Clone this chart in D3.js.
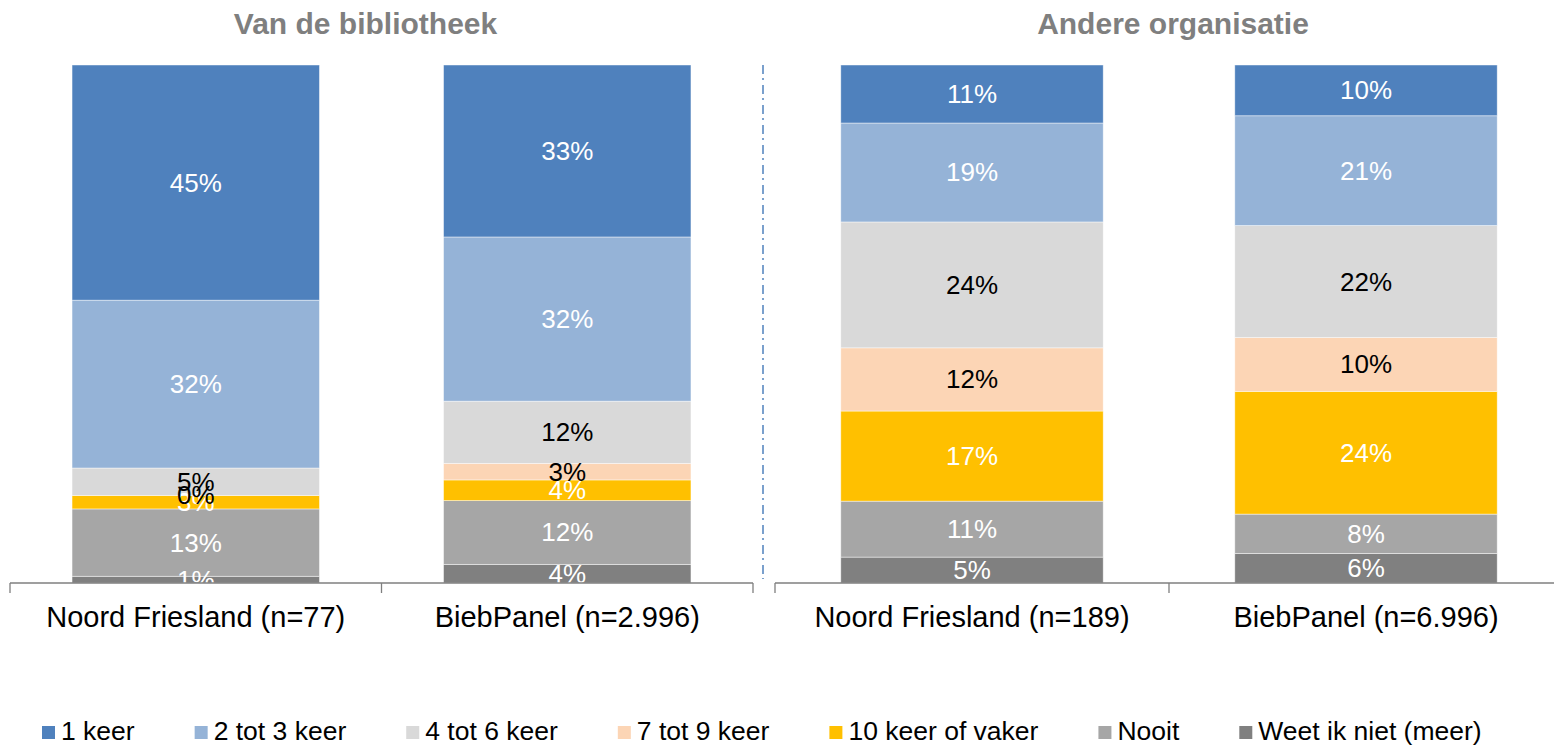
<!DOCTYPE html>
<html>
<head>
<meta charset="utf-8">
<script src="https://cdn.jsdelivr.net/npm/d3@7"></script>
<style>
  body { margin: 0; background: #fff; }
  text { font-family: "Liberation Sans", Arial, sans-serif; }
</style>
</head>
<body>
<script>
// categories of the answer, top of the bar to the bottom
var categories = ["1 keer", "2 tot 3 keer", "4 tot 6 keer", "7 tot 9 keer", "10 keer of vaker", "Nooit", "Weet ik niet (meer)"];
var colors = ["#4F81BD", "#95B3D7", "#D9D9D9", "#FCD5B5", "#FFC000", "#A6A6A6", "#808080"];
var labelColors = ["#fff", "#fff", "#000", "#000", "#fff", "#fff", "#fff"];

var panelTitles = ["Van de bibliotheek", "Andere organisatie"];
var groupsLeft = ["Noord Friesland (n=77)", "BiebPanel (n=2.996)"];
var groupsRight = ["Noord Friesland (n=189)", "BiebPanel (n=6.996)"];

// percentages per group, same order as categories
var bibNoord = [45.4, 32.4, 5.3, 0, 2.6, 13.0, 1.3];
var bibPanel = [33.2, 31.7, 12.0, 3.2, 4.0, 12.3, 3.6];
var andNoord = [11.2, 19.1, 24.3, 12.2, 17.4, 10.8, 5.0];
var andPanel = [9.8, 21.2, 21.6, 10.4, 23.7, 7.6, 5.7];

var width = 1554, height = 745;

var svg = d3.select("body").append("svg")
    .attr("width", width)
    .attr("height", height);

var y = d3.scaleLinear().domain([0, 100]).range([583, 65]);

var panels = [
    {title: panelTitles[0], groups: groupsLeft, values: [bibNoord, bibPanel], range: [10, 753], titleShift: -16},
    {title: panelTitles[1], groups: groupsRight, values: [andNoord, andPanel], range: [775, 1563], titleShift: 4}
];

panels.forEach(function(p) {
    var x = d3.scaleBand()
        .domain(p.groups)
        .range(p.range)
        .paddingInner(0.334)
        .paddingOuter(0.167);

    var rows = p.groups.map(function(g, i) {
        var row = {group: g};
        categories.forEach(function(c, j) { row[c] = p.values[i][j]; });
        return row;
    });

    // stack so that the first category is on top: build from the last one
    var stack = d3.stack().keys(categories.slice().reverse())(rows);

    var g = svg.append("g");

    stack.forEach(function(layer) {
        var ci = categories.indexOf(layer.key);
        g.selectAll(null)
            .data(layer)
            .enter().append("rect")
            .attr("x", function(d) { return x(d.data.group); })
            .attr("y", function(d) { return y(d[1]); })
            .attr("width", x.bandwidth())
            .attr("height", function(d) { return y(d[0]) - y(d[1]); })
            .style("fill", colors[ci])
            .style("stroke", "#fff")
            .style("stroke-opacity", 0.6)
            .style("stroke-width", 0.75);
    });

    stack.forEach(function(layer) {
        var ci = categories.indexOf(layer.key);
        g.selectAll(null)
            .data(layer)
            .enter().append("text")
            .attr("x", function(d) { return x(d.data.group) + x.bandwidth() / 2; })
            .attr("y", function(d) { return (y(d[0]) + y(d[1])) / 2 + 9; })
            .attr("text-anchor", "middle")
            .style("font-size", "26px")
            .style("fill", labelColors[ci])
            .text(function(d) { return Math.round(d[1] - d[0]) + "%"; });
    });

    // axis line with ticks between the categories
    g.append("line")
        .attr("x1", p.range[0]).attr("x2", p.range[1])
        .attr("y1", y(0)).attr("y2", y(0))
        .style("stroke", "#7f7f7f").style("stroke-width", 1.3);

    var edges = [p.range[0], x(p.groups[1]) - x.step() * x.paddingInner() / 2, p.range[1]];
    g.selectAll(null)
        .data(edges)
        .enter().append("line")
        .attr("x1", function(d) { return d; }).attr("x2", function(d) { return d; })
        .attr("y1", y(0)).attr("y2", y(0) + 10)
        .style("stroke", "#7f7f7f").style("stroke-width", 1.3);

    g.selectAll(null)
        .data(p.groups)
        .enter().append("text")
        .attr("x", function(d) { return x(d) + x.bandwidth() / 2; })
        .attr("y", 627)
        .attr("text-anchor", "middle")
        .style("font-size", "29px")
        .style("fill", "#000")
        .text(function(d) { return d; });

    svg.append("text")
        .attr("x", (p.range[0] + p.range[1]) / 2 + p.titleShift)
        .attr("y", 34)
        .attr("text-anchor", "middle")
        .style("font-size", "30px")
        .style("font-weight", "bold")
        .style("fill", "#7f7f7f")
        .text(p.title);
});

// dash-dot divider between the two panels
svg.append("line")
    .attr("x1", 763).attr("x2", 763)
    .attr("y1", y(100)).attr("y2", y(0) - 4)
    .style("stroke", "#4F81BD")
    .style("stroke-width", 1.5)
    .style("stroke-dasharray", "9,4,2,5");

// legend
var legend = svg.append("g").attr("transform", "translate(42,726)");
var lx = 0;
categories.forEach(function(c, i) {
    var item = legend.append("g").attr("transform", "translate(" + lx + ",0)");
    item.append("rect")
        .attr("width", 13).attr("height", 13)
        .style("fill", colors[i]);
    var t = item.append("text")
        .attr("x", 19)
        .attr("y", 14)
        .style("font-size", "26.5px")
        .style("fill", "#000")
        .text(c);
    lx += 19 + t.node().getComputedTextLength() + 60;
});
</script>
</body>
</html>
